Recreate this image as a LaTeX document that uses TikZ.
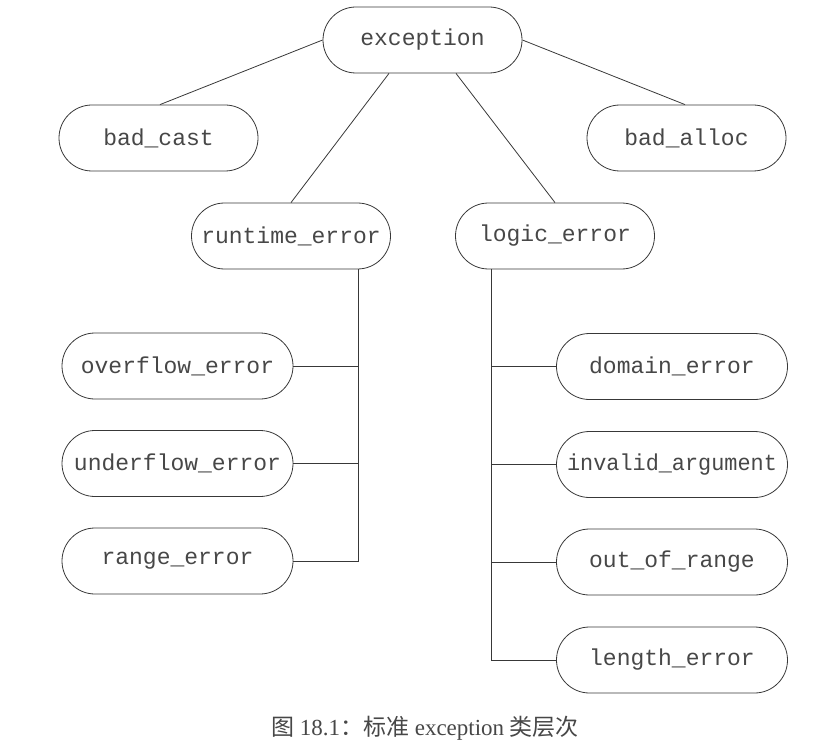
\documentclass[tikz,border=0pt]{standalone}
\usepackage{fontspec}
\setmainfont{Liberation Serif}
\setmonofont{Liberation Mono}
\newfontfamily\cjk{Noto Sans CJK SC}
\usetikzlibrary{shapes.misc}
\definecolor{ink}{gray}{0.22}
\definecolor{txt}{gray}{0.28}
\tikzset{
  cls/.style={draw=ink, line width=0.8pt, rounded rectangle, minimum height=66pt,
    inner sep=0pt, text=txt, font=\ttfamily\fontsize{23}{26}\selectfont},
  clsA/.style={cls, minimum width=199pt},
  clsB/.style={cls, minimum width=231pt},
  link/.style={draw=ink, line width=0.8pt}
}
\begin{document}
\begin{tikzpicture}[x=1pt,y=-1pt]
\useasboundingbox (0,0) rectangle (827,746);
\node[clsA] (exc) at (422.5,40) {exception};
\node[clsA] (bc) at (158.5,138) {bad\_cast};
\node[clsA] (ba) at (686.5,138) {bad\_alloc};
\node[clsA] (rt) at (291,236) {runtime\_error};
\node[clsA] (le) at (555,236) {logic\_error};
\node[clsB] (of) at (177.5,366) {overflow\_error};
\node[clsB] (uf) at (177.5,463.5) {underflow\_error};
\node[clsB] (re) at (177.5,561) {range\_error};
\node[clsB] (de) at (672,366.5) {domain\_error};
\node[clsB] (ia) at (672,464.5) {\scalebox{0.95}[1]{invalid\_argument}};
\node[clsB] (oor) at (672,562) {out\_of\_range};
\node[clsB] (len) at (672,660) {length\_error};
\draw[link] (exc.west) -- ([xshift=1.5pt]bc.north);
\draw[link] (exc.east) -- ([xshift=-1.5pt]ba.north);
\draw[link] ([xshift=-33.5pt]exc.south) -- (rt.north);
\draw[link] ([xshift=33.5pt]exc.south) -- (le.north);
\coordinate (rtb) at ([xshift=67pt]rt.south);
\coordinate (leb) at ([xshift=-64pt]le.south);
\draw[link] (rtb) |- (re.east);
\draw[link] (of.east) -- (of.east -| rtb);
\draw[link] (uf.east) -- (uf.east -| rtb);
\draw[link] (leb) |- (len.west);
\draw[link] (de.west) -- (de.west -| leb);
\draw[link] (ia.west) -- (ia.west -| leb);
\draw[link] (oor.west) -- (oor.west -| leb);
\node[text=txt, font=\fontsize{23}{27}\selectfont, inner sep=0pt] (cap) at (425,728)
  {{\cjk 图} 18.1{\cjk ：标准} exception {\cjk 类层次}};
\end{tikzpicture}
\end{document}
